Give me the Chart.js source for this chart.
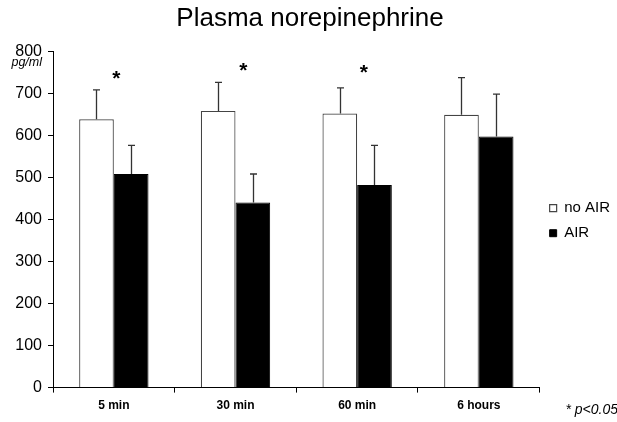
<!DOCTYPE html>
<html>
<head>
<meta charset="utf-8">
<script src="https://cdn.jsdelivr.net/npm/chart.js@4.4.0/dist/chart.umd.min.js"></script>
<style>
html,body{margin:0;padding:0;background:#fff;}
#wrap{width:617px;height:422px;position:relative;}
</style>
</head>
<body>
<div id="wrap"><canvas id="c" width="617" height="422"></canvas></div>
<script>
const categories = ['5 min', '30 min', '60 min', '6 hours'];
const noAir = [638, 658, 652, 649];
const noAirErr = [70, 68, 61, 88];
const air = [508, 440, 482, 597];
const airErr = [68, 68, 94, 101];
const yTicks = [0, 100, 200, 300, 400, 500, 600, 700, 800];
const starValue = [740, 760, 755, null];
const starShift = [0.02, 0.065, 0.055, 0];

const FONT = '"Liberation Sans", Arial, sans-serif';

const errorBars = {
  id: 'errorBars',
  afterDatasetsDraw(chart) {
    const ctx = chart.ctx;
    const y = chart.scales.y;
    const errs = [noAirErr, airErr];
    const vals = [noAir, air];
    ctx.save();
    ctx.lineWidth = 1.3;
    ctx.strokeStyle = '#333';
    [0, 1].forEach(di => {
      const meta = chart.getDatasetMeta(di);
      meta.data.forEach((bar, i) => {
        const x = Math.round(bar.x) + 0.5;
        const top = y.getPixelForValue(vals[di][i] + errs[di][i]);
        const base = y.getPixelForValue(vals[di][i]);
        ctx.beginPath();
        ctx.moveTo(x, base);
        ctx.lineTo(x, top);
        ctx.moveTo(x - 3.5, top);
        ctx.lineTo(x + 3.5, top);
        ctx.stroke();
      });
    });
    // significance stars
    const xs = chart.scales.x;
    const w = xs.width / categories.length;
    ctx.fillStyle = '#000';
    ctx.font = 'bold 21px ' + FONT;
    ctx.textAlign = 'center';
    ctx.textBaseline = 'alphabetic';
    starValue.forEach((v, i) => {
      if (v == null) return;
      const cx = xs.getPixelForValue(i) + starShift[i] * w;
      const cy = y.getPixelForValue(v);
      ctx.fillText('*', cx, cy + 9);
    });
    // footnote
    ctx.font = 'italic 14px ' + FONT;
    ctx.textAlign = 'right';
    ctx.textBaseline = 'middle';
    ctx.fillText('* p<0.05', 618, 410);
    // unit label
    ctx.font = 'italic 12.5px ' + FONT;
    ctx.textAlign = 'right';
    ctx.fillText('pg/ml', 42, 63);
    ctx.restore();
  }
};

new Chart(document.getElementById('c'), {
  type: 'bar',
  data: {
    labels: categories,
    datasets: [
      { label: 'no AIR', data: noAir, backgroundColor: '#ffffff', borderColor: '#444', borderWidth: 1.2,
        categoryPercentage: 0.57, barPercentage: 1.0 },
      { label: 'AIR', data: air, backgroundColor: '#000000', borderColor: '#000', borderWidth: 1,
        categoryPercentage: 0.57, barPercentage: 1.0 }
    ]
  },
  options: {
    responsive: false,
    animation: false,
    devicePixelRatio: 1,
    layout: { padding: { left: 0, right: -3, top: 0, bottom: 3 } },
    plugins: {
      title: {
        display: true,
        text: 'Plasma norepinephrine',
        color: '#000',
        font: { family: FONT, size: 26, weight: 'normal' },
        padding: { top: 3, bottom: 17 }
      },
      legend: {
        position: 'right',
        align: 'center',
        title: { display: true, text: ' ', font: { family: FONT, size: 12 }, padding: 4 },
        labels: {
          color: '#000',
          font: { family: FONT, size: 15 },
          boxWidth: 7,
          boxHeight: 7,
          padding: 10
        }
      },
      tooltip: { enabled: false }
    },
    scales: {
      x: {
        grid: { display: true, drawOnChartArea: false, color: '#000', tickLength: 5, offset: true },
        border: { color: '#000', width: 1 },
        ticks: { color: '#000', font: { family: FONT, size: 12, weight: 'bold' }, padding: 6 }
      },
      y: {
        min: 0, max: 800,
        afterBuildTicks(scale) { scale.ticks = yTicks.map(v => ({ value: v })); },
        afterFit(scale) { scale.width = 53; },
        grid: { display: true, drawOnChartArea: false, color: '#000', tickLength: 5 },
        border: { color: '#000', width: 1 },
        ticks: { color: '#000', font: { family: FONT, size: 16 }, padding: 6 }
      }
    }
  },
  plugins: [errorBars]
});
</script>
</body>
</html>
